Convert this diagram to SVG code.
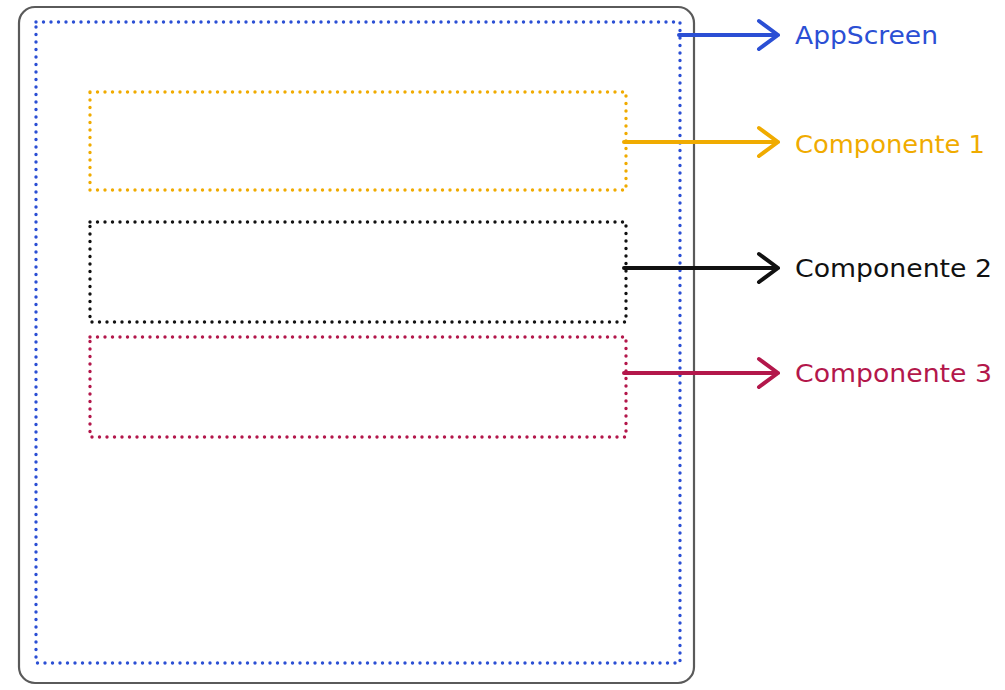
<svg xmlns="http://www.w3.org/2000/svg" width="1005" height="690" viewBox="0 0 1005 690">
  <style>
    .frame { fill: #ffffff; stroke: #5a5a5a; stroke-width: 2.2; }
    .dots { fill: none; stroke-width: 3.4; stroke-dasharray: 0 7.5; stroke-linecap: round; }
    .link { fill: none; stroke-width: 4; stroke-linecap: round; stroke-linejoin: round; }
    .label { font-family: "DejaVu Sans", "Noto Sans", sans-serif; font-size: 24px; }
    .blue { stroke: #2b4fd4; }
    .amber { stroke: #f0ab00; }
    .ink { stroke: #111111; }
    .crimson { stroke: #b3174b; }
  </style>
  <rect width="1005" height="690" fill="#ffffff"/>

  <!-- device frame -->
  <g id="device">
    <rect class="frame" x="19" y="7" width="675" height="676" rx="16"/>
  </g>

  <!-- screen and component outlines -->
  <g id="appscreen">
    <rect class="dots blue" x="36" y="22" width="644" height="641"/>
  </g>
  <g id="componente1">
    <rect class="dots amber" x="90" y="92" width="536" height="98"/>
  </g>
  <g id="componente2">
    <rect class="dots ink" x="90" y="222" width="536" height="100"/>
  </g>
  <g id="componente3">
    <rect class="dots crimson" x="90" y="337" width="536" height="100"/>
  </g>

  <!-- pointers to labels -->
  <g id="connectors">
    <path class="link blue" d="M679 35 H778 M759 21 L778 35 L759 49"/>
    <path class="link amber" d="M624 142 H778 M759 128 L778 142 L759 156"/>
    <path class="link ink" d="M624 268 H778 M759 254 L778 268 L759 282"/>
    <path class="link crimson" d="M624 373 H778 M759 359 L778 373 L759 387"/>
  </g>

  <!-- labels -->
  <g id="labels">
    <text class="label" x="795" y="44" fill="#2b4fd4" textLength="143" lengthAdjust="spacingAndGlyphs">AppScreen</text>
    <text class="label" x="795" y="153" fill="#f0ab00" textLength="190" lengthAdjust="spacingAndGlyphs">Componente 1</text>
    <text class="label" x="795" y="277" fill="#111111" textLength="197" lengthAdjust="spacingAndGlyphs">Componente 2</text>
    <text class="label" x="795" y="382" fill="#b3174b" textLength="197" lengthAdjust="spacingAndGlyphs">Componente 3</text>
  </g>
</svg>
